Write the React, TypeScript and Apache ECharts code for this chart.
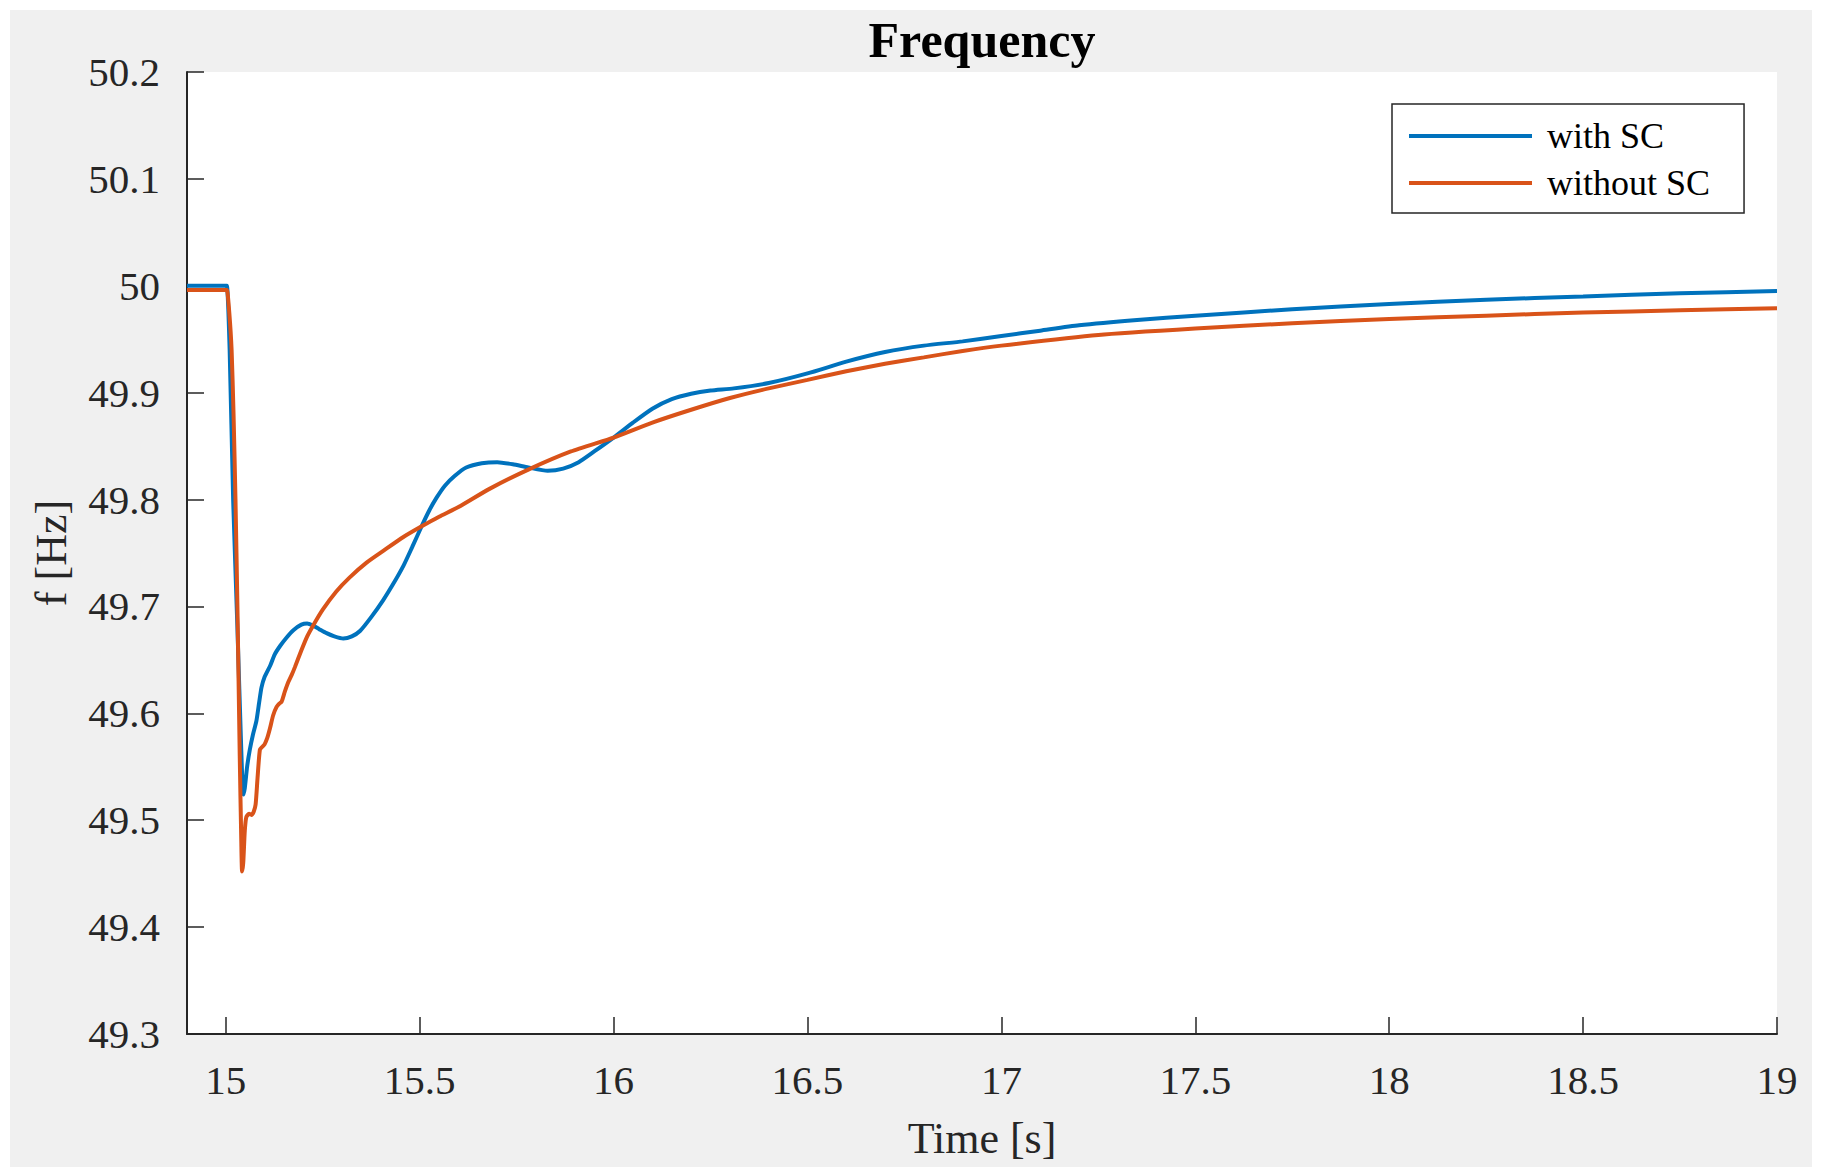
import React, { useEffect, useRef } from "react";
import * as echarts from "echarts";

const TITLE = "Frequency";
const X_NAME = "Time [s]";
const Y_NAME = "f [Hz]";
const SERIES_NAMES = ["with SC", "without SC"];
const X_TICKS = [15, 15.5, 16, 16.5, 17, 17.5, 18, 18.5, 19];

const timeWithSC = [
  14.9, 15.0, 15.003, 15.01, 15.019, 15.03, 15.04, 15.045, 15.049, 15.055, 15.062, 15.07, 15.079,
  15.086, 15.092, 15.1, 15.115, 15.126, 15.14, 15.157, 15.175, 15.195, 15.21, 15.225, 15.24, 15.26,
  15.28, 15.303, 15.325, 15.346, 15.375, 15.406, 15.43, 15.458, 15.48, 15.505, 15.525, 15.544, 15.565,
  15.59, 15.62, 15.66, 15.7, 15.74, 15.78, 15.83, 15.87, 15.91, 15.95, 16.0, 16.05, 16.1, 16.15, 16.2, 16.25, 16.31,
  16.4, 16.5, 16.6, 16.7, 16.8, 16.9, 17.0, 17.1, 17.2, 17.35, 17.5, 17.75, 18.0, 18.25, 18.5, 18.75, 19.0,
];
const freqWithSC = [
  50.0, 50.0, 50.0, 49.94, 49.8, 49.68, 49.565, 49.524, 49.53, 49.55, 49.566, 49.58, 49.593,
  49.61, 49.624, 49.634, 49.645, 49.655, 49.663, 49.671, 49.678, 49.683, 49.684, 49.682, 49.679, 49.675,
  49.672, 49.67, 49.672, 49.677, 49.69, 49.706, 49.72, 49.738, 49.755, 49.775, 49.79, 49.802, 49.813,
  49.822, 49.83, 49.834, 49.835, 49.833, 49.83, 49.827, 49.829, 49.835, 49.845, 49.858, 49.872, 49.885, 49.894, 49.899, 49.902, 49.904,
  49.909, 49.918, 49.929, 49.938, 49.944, 49.948, 49.953, 49.958, 49.963, 49.968, 49.972, 49.978, 49.983, 49.987, 49.99, 49.993, 49.995,
];

const timeWithoutSC = [
  14.9, 15.0, 15.003, 15.009, 15.015, 15.02, 15.025, 15.03, 15.036, 15.04, 15.042, 15.045, 15.049,
  15.053, 15.06, 15.066, 15.072, 15.077, 15.082, 15.088, 15.095, 15.1, 15.107, 15.114, 15.122, 15.131,
  15.138, 15.144, 15.152, 15.161, 15.17, 15.178, 15.195, 15.21, 15.225, 15.25, 15.285, 15.319, 15.363,
  15.406, 15.458, 15.505, 15.55, 15.6, 15.68, 15.78, 15.89, 16.0, 16.1, 16.2, 16.3, 16.4, 16.5, 16.6,
  16.7, 16.8, 16.9, 17.0, 17.25, 17.5, 17.75, 18.0, 18.25, 18.5, 18.75, 19.0,
];
const freqWithoutSC = [
  49.996, 49.996, 49.996, 49.975, 49.94, 49.88, 49.8, 49.7, 49.56, 49.48, 49.452, 49.46, 49.49,
  49.503, 49.506, 49.505, 49.508, 49.515, 49.54, 49.566, 49.569, 49.571, 49.577, 49.586, 49.598, 49.606,
  49.609, 49.611, 49.62, 49.629, 49.636, 49.643, 49.659, 49.672, 49.682, 49.697, 49.714, 49.727, 49.741,
  49.752, 49.765, 49.775, 49.784, 49.793, 49.81, 49.828, 49.845, 49.858, 49.872, 49.884, 49.895, 49.904, 49.912, 49.92,
  49.927, 49.933, 49.939, 49.944, 49.954, 49.96, 49.965, 49.969, 49.972, 49.975, 49.977, 49.979,
];

const SERIF = "'Liberation Serif', 'Times New Roman', serif";
const AXIS_COLOR = "#262626";

export default function App() {
  const ref = useRef<HTMLDivElement>(null);

  useEffect(() => {
    document.body.style.margin = "0";
    if (!ref.current) return;
    const chart = echarts.init(ref.current, null, { renderer: "svg" });
    const pairs = (xs: number[], ys: number[]) => xs.map((x, i) => [x, ys[i]]);
    chart.setOption({
      animation: false,
      backgroundColor: "#f0f0f0",
      textStyle: { fontFamily: SERIF },
      graphic: [
        {
          type: "text",
          x: 972,
          y: 30,
          style: {
            text: TITLE,
            font: `bold 50px ${SERIF}`,
            fill: "#000",
            align: "center",
            verticalAlign: "middle",
          },
        },
      ],
      grid: {
        left: 177,
        top: 62,
        right: 35,
        bottom: 133,
        show: true,
        backgroundColor: "#ffffff",
        borderWidth: 0,
      },
      legend: {
        left: 1382,
        top: 94,
        orient: "vertical",
        data: SERIES_NAMES,
        icon: "rect",
        itemWidth: 123,
        itemHeight: 4,
        itemGap: 11,
        padding: [14, 34, 12, 17],
        backgroundColor: "#ffffff",
        borderColor: AXIS_COLOR,
        borderWidth: 1.5,
        textStyle: {
          fontFamily: SERIF,
          fontSize: 36,
          color: "#000",
          padding: [8, 0, 0, 10],
        },
      },
      xAxis: {
        type: "value",
        min: 14.9,
        max: 19,
        name: X_NAME,
        nameLocation: "middle",
        nameGap: 82,
        nameTextStyle: { fontFamily: SERIF, fontSize: 44, color: AXIS_COLOR },
        axisLine: { show: true, onZero: false, lineStyle: { color: AXIS_COLOR, width: 2 } },
        axisTick: {
          show: true,
          inside: true,
          length: 17,
          customValues: X_TICKS,
          lineStyle: { color: AXIS_COLOR, width: 1.5 },
        },
        axisLabel: {
          customValues: X_TICKS,
          margin: 25,
          fontFamily: SERIF,
          fontSize: 41,
          color: AXIS_COLOR,
          formatter: (v: number) => String(v),
        },
        splitLine: { show: false },
      },
      yAxis: {
        type: "value",
        min: 49.3,
        max: 50.2,
        interval: 0.1,
        name: Y_NAME,
        nameLocation: "middle",
        nameGap: 114,
        nameTextStyle: { fontFamily: SERIF, fontSize: 44, color: AXIS_COLOR },
        axisLine: { show: true, lineStyle: { color: AXIS_COLOR, width: 2 } },
        axisTick: { show: true, inside: true, length: 17, lineStyle: { color: AXIS_COLOR, width: 1.5 } },
        axisLabel: {
          margin: 27,
          fontFamily: SERIF,
          fontSize: 41,
          color: AXIS_COLOR,
          formatter: (v: number) => String(Math.round(v * 10) / 10),
        },
        splitLine: { show: false },
      },
      series: [
        {
          name: SERIES_NAMES[0],
          type: "line",
          data: pairs(timeWithSC, freqWithSC),
          symbol: "none",
          smooth: 0.2,
          lineStyle: { color: "#0072BD", width: 4 },
          itemStyle: { color: "#0072BD" },
          z: 3,
        },
        {
          name: SERIES_NAMES[1],
          type: "line",
          data: pairs(timeWithoutSC, freqWithoutSC),
          symbol: "none",
          smooth: 0.2,
          lineStyle: { color: "#D95319", width: 4 },
          itemStyle: { color: "#D95319" },
          z: 4,
        },
      ],
    });
    return () => chart.dispose();
  }, []);

  return (
    <div style={{ position: "relative", width: 1823, height: 1176, background: "#ffffff" }}>
      <div ref={ref} style={{ position: "absolute", left: 10, top: 10, width: 1802, height: 1157 }} />
    </div>
  );
}
